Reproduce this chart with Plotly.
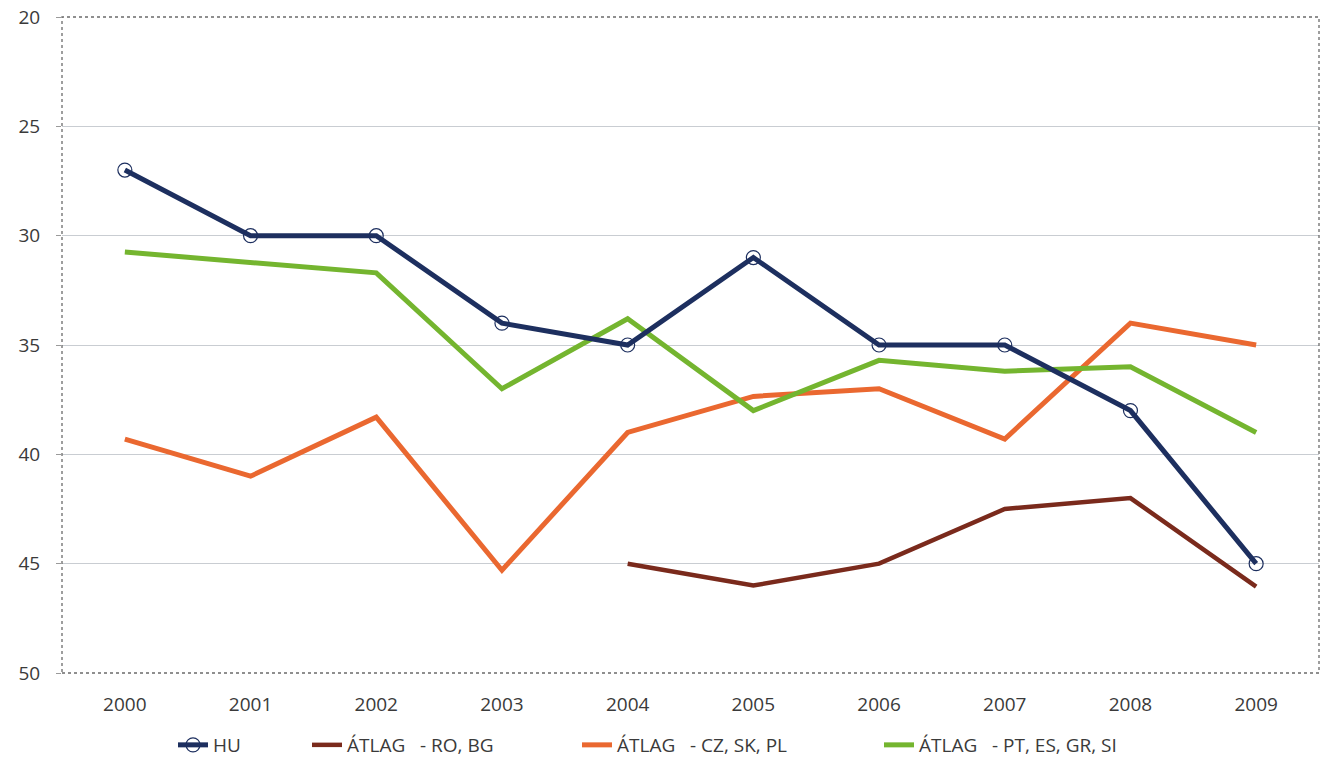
import plotly.graph_objects as go

years = ["2000", "2001", "2002", "2003", "2004", "2005", "2006", "2007", "2008", "2009"]
hu = [27.0, 30.0, 30.0, 34.0, 35.0, 31.0, 35.0, 35.0, 38.0, 45.0]
ro_bg = [None, None, None, None, 45.0, 46.0, 45.0, 42.5, 42.0, 46.05]
cz_sk_pl = [39.3, 41.0, 38.3, 45.3, 39.0, 37.35, 37.0, 39.3, 34.0, 35.0]
pt_es_gr_si = [30.75, 31.2, 31.7, 37.0, 33.8, 38.0, 35.7, 36.2, 36.0, 39.0]
names = ["HU", "ÁTLAG\u00a0\u00a0 - RO, BG", "ÁTLAG\u00a0\u00a0 - CZ, SK, PL", "ÁTLAG\u00a0\u00a0 - PT, ES, GR, SI"]
yticks = [20, 25, 30, 35, 40, 45, 50]

FONT = "Open Sans"
TXT = "#3a3a3a"

fig = go.Figure()
fig.add_trace(go.Scatter(x=years, y=cz_sk_pl, mode="lines", name=names[2],
                         line=dict(color="#ea6830", width=5), legend="legend3"))
fig.add_trace(go.Scatter(x=years, y=pt_es_gr_si, mode="lines", name=names[3],
                         line=dict(color="#74b52f", width=5), legend="legend4"))
fig.add_trace(go.Scatter(x=years, y=ro_bg, mode="lines", name=names[1],
                         line=dict(color="#7a2a1c", width=4.5), legend="legend2"))
fig.add_trace(go.Scatter(x=years, y=hu, mode="lines+markers", name=names[0],
                         line=dict(color="#1d2f5f", width=5),
                         marker=dict(symbol="circle-open", size=14, color="#1d2f5f",
                                     line=dict(width=1.2, color="#1d2f5f")),
                         legend="legend"))

# body margin is removed in the page (post_script), so figure starts at 0,0
W, H = 1342, 771
L, T = 62, 17
R = W - 1319
B = H - 673
pw = W - L - R
ph = H - T - B

def lx(px):
    return (px - 40 - L) / pw

ly = -(745 - 673) / ph

leg_common = dict(orientation="h", yanchor="middle", y=ly, xanchor="left",
                  font=dict(family=FONT, size=19, color=TXT), bgcolor="rgba(0,0,0,0)",
                  borderwidth=0)

fig.update_layout(
    width=W, height=H,
    margin=dict(l=L, r=R, t=T, b=B, autoexpand=False),
    paper_bgcolor="#ffffff",
    plot_bgcolor="#ffffff",
    font=dict(family=FONT, size=19, color=TXT),
    showlegend=True,
    legend=dict(x=lx(213), **leg_common),
    legend2=dict(x=lx(347), **leg_common),
    legend3=dict(x=lx(617), **leg_common),
    legend4=dict(x=lx(919), **leg_common),
    xaxis=dict(type="category", range=[-0.5, 9.5], showgrid=False, zeroline=False,
               showline=False, ticks="", ticklabelstandoff=18, automargin=False,
               ticklabeloverflow="allow",
               tickfont=dict(family=FONT, size=19, color=TXT)),
    yaxis=dict(range=[50, 20], tickvals=yticks, ticktext=[str(v) for v in yticks],
               showgrid=True, gridcolor="#c9cdd2", gridwidth=1, zeroline=False,
               showline=False, ticks="outside", ticklen=5, tickcolor="#9a9a9a",
               ticklabelstandoff=12, automargin=False, ticklabeloverflow="allow",
               tickfont=dict(family=FONT, size=19, color=TXT)),
    shapes=[dict(type="rect", xref="paper", yref="paper", x0=0, x1=1, y0=0, y1=1,
                 line=dict(color="#6b6b6b", width=1.3, dash="dot"), layer="above")],
)

fig.write_html("out.html", config={"displayModeBar": False},
               post_script="document.body.style.margin='0';document.body.style.overflow='hidden';")
